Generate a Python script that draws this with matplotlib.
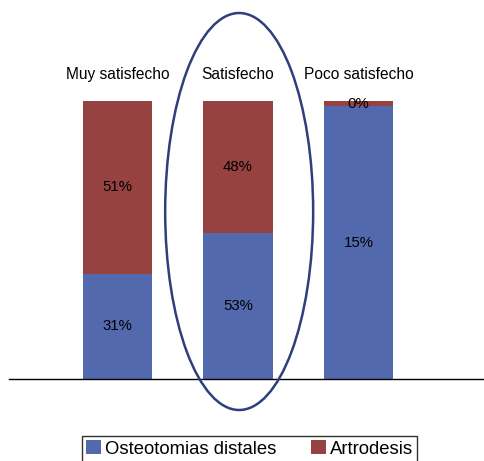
"""Stacked satisfaction bars: osteotomias distales vs artrodesis."""

import matplotlib
matplotlib.use("Agg")
import matplotlib.pyplot as plt
from matplotlib.patches import Ellipse

plt.rcParams["font.family"] = ["Liberation Sans", "DejaVu Sans"]

categories = ["Muy satisfecho", "Satisfecho", "Poco satisfecho"]
osteotomias = [31, 53, 15]
artrodesis = [51, 48, 0.3]
series_names = ["Osteotomias distales", "Artrodesis"]

BLUE = "#5369ae"
RED = "#954240"

fig = plt.figure(figsize=(4.85, 4.61), dpi=100)
ax = fig.add_axes([9 / 485, 1 - 379 / 461, 476 / 485, 278 / 461])

totals = [a + b for a, b in zip(osteotomias, artrodesis)]
blue_share = [a / t for a, t in zip(osteotomias, totals)]
red_share = [b / t for b, t in zip(artrodesis, totals)]
x = list(range(len(categories)))

ax.bar(x, blue_share, width=0.575, color=BLUE, label=series_names[0])
ax.bar(x, red_share, width=0.575, bottom=blue_share, color=RED, label=series_names[1])

for i in x:
    ax.text(i, blue_share[i] / 2, f"{osteotomias[i]:.0f}%", ha="center", va="center", fontsize=10.8)
    ax.text(i, blue_share[i] + red_share[i] / 2, f"{artrodesis[i]:.0f}%", ha="center", va="center", fontsize=10.8)
    ax.text(i, 1.094, categories[i], ha="center", va="center", fontsize=11.2, clip_on=False)

ax.add_patch(Ellipse((1.01, 0.6025), 1.228, 1.428, fill=False, edgecolor="#2e3f7c",
                     linewidth=1.8, clip_on=False, zorder=5))

ax.set_xlim(-0.9, 3.05)
ax.set_ylim(0, 1)
for side in ["top", "left", "right"]:
    ax.spines[side].set_visible(False)
ax.spines["bottom"].set_linewidth(1)
ax.set_xticks([])
ax.set_yticks([])

leg = fig.legend(loc="center", bbox_to_anchor=(249.5 / 485, 1 - 449 / 461), ncol=2,
                 fontsize=13.3, frameon=True, fancybox=False, handlelength=0.8,
                 handleheight=0.8, handletextpad=0.2, columnspacing=1.9,
                 borderpad=0.25)
leg.get_frame().set_edgecolor("black")
leg.get_frame().set_linewidth(1)

fig.savefig("out.png", dpi=100)
